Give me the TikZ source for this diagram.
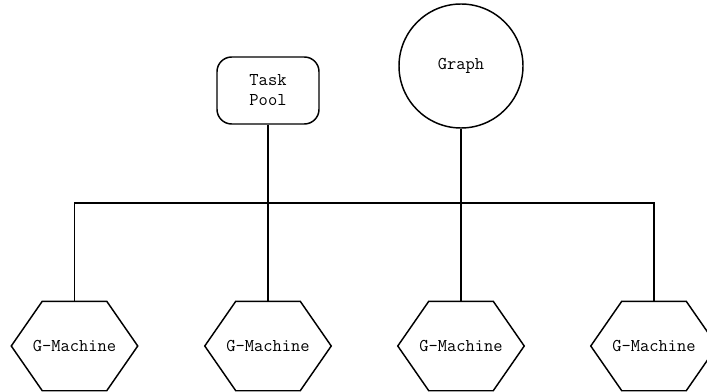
\documentclass[tikz,border=0pt]{standalone}
\begin{document}
\begin{tikzpicture}[x=0.75pt,y=-0.75pt, line width=1.1pt,
  lbl/.style={font=\ttfamily\fontsize{13.5}{15}\selectfont},
  pool/.style={lbl, draw, rounded corners=11pt, minimum width=76.5pt,
    minimum height=50.25pt, align=center, inner sep=0pt},
  store/.style={lbl, draw, circle, minimum size=93pt, inner sep=0pt},
  machine/.style={lbl, inner sep=0pt, minimum width=93.75pt, minimum height=66pt},
  hexedge/.style={line join=miter}]
\useasboundingbox (0,0) rectangle (707,392);

% sources at the top
\node[pool]  (pool)  at (268,90.5) {Task\\Pool};
\node[store] (graph) at (461,66)   {Graph};

% the four machines, each a flattened hexagon round its label
\foreach \i/\x in {1/74.5,2/268,3/461,4/654} {
  \node[machine] (m\i) at (\x,346) {G-Machine};
  \draw[hexedge] (m\i.west) -- ([xshift=23.25pt]m\i.north west)
    -- ([xshift=-23.25pt]m\i.north east) -- (m\i.east)
    -- ([xshift=-23.25pt]m\i.south east) -- ([xshift=23.25pt]m\i.south west)
    -- cycle;
}

% shared bus
\coordinate (bus) at (0,203);
\draw (m1.north) |- (bus -| m4.north) -- (m4.north);
\draw (pool.south) -- (m2.north);
\draw (graph.south) -- (m3.north);
\end{tikzpicture}
\end{document}
